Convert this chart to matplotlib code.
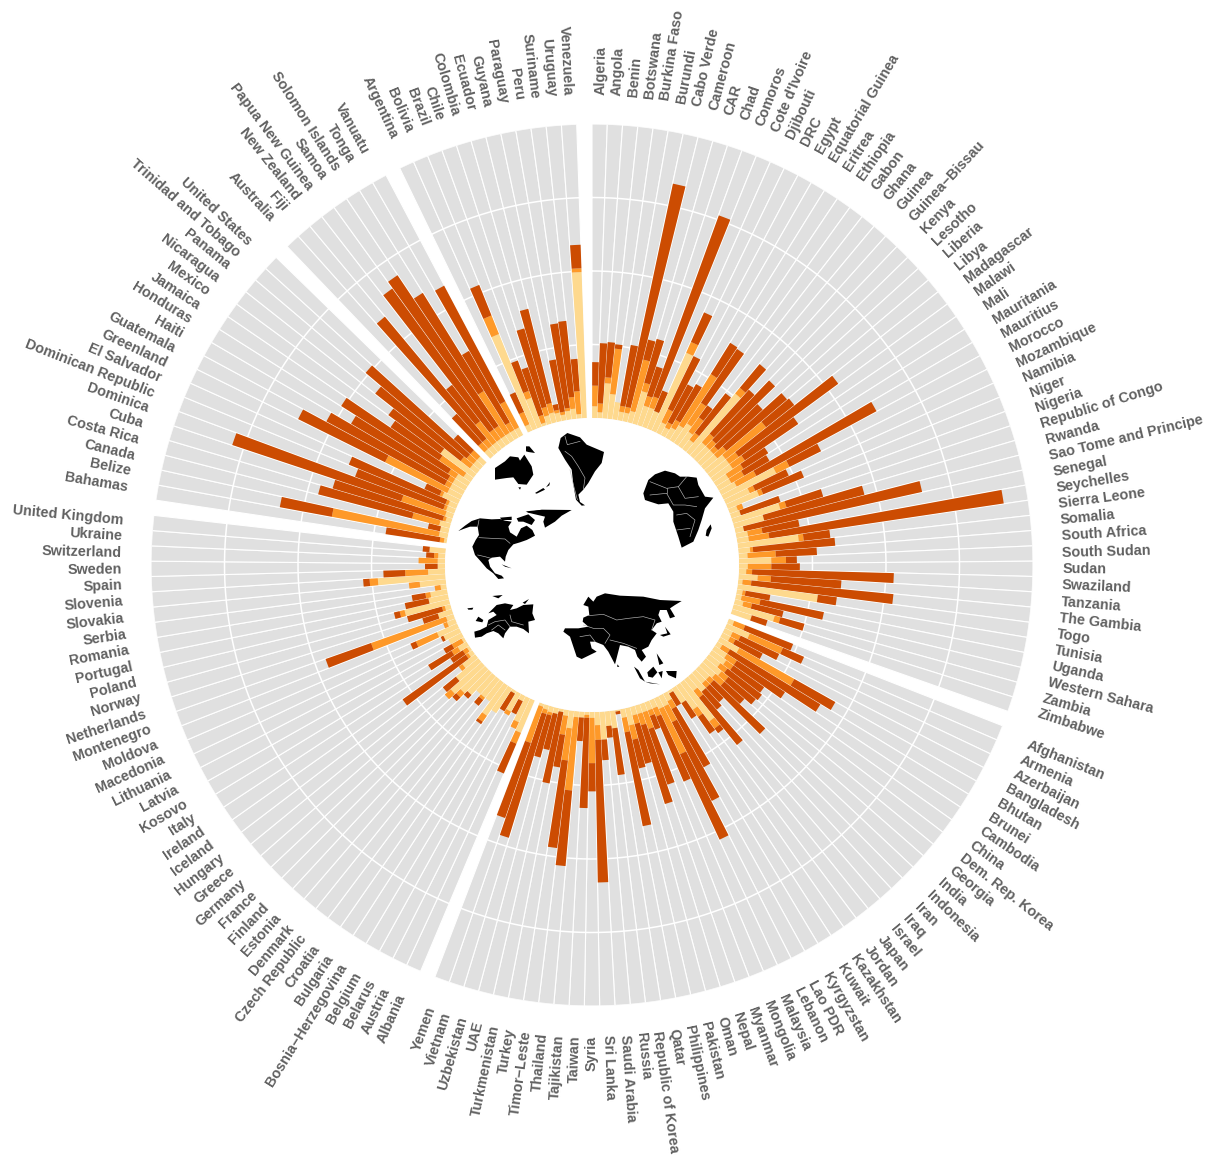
import numpy as np
import matplotlib
matplotlib.use("Agg")
import matplotlib.pyplot as plt
from matplotlib.patches import Polygon
from matplotlib.lines import Line2D

plt.rcParams['font.family'] = ['Liberation Sans', 'DejaVu Sans']

africa_names = ["Algeria","Angola","Benin","Botswana","Burkina Faso","Burundi","Cabo Verde","Cameroon","CAR","Chad","Comoros","Cote d'Ivoire","Djibouti","DRC","Egypt","Equatorial Guinea","Eritrea","Ethiopia","Gabon","Ghana","Guinea","Guinea\u2212Bissau","Kenya","Lesotho","Liberia","Libya","Madagascar","Malawi","Mali","Mauritania","Mauritius","Morocco","Mozambique","Namibia","Niger","Nigeria","Republic of Congo","Rwanda","Sao Tome and Principe","Senegal","Seychelles","Sierra Leone","Somalia","South Africa","South Sudan","Sudan","Swaziland","Tanzania","The Gambia","Togo","Tunisia","Uganda","Western Sahara","Zambia","Zimbabwe"]
africa_light = [4,2,12,8.5,6,3,3,4,11.5,7,7,6.5,29,4,3,4,6,8,6,4,26,6,6,6,6,8,8,8,5,5,6,20,9,11.5,3,3.4,16.8,10.5,3,4,4,20.8,4,3,11,3,2.5,6.5,1.5,27.5,2,2,3,14.5,7]
africa_orange = [7,3,2,15.5,0,2,2,18,3,3.5,4,0,4,5,2,3,20.5,8.5,6,3,2.5,4,3,2,4,17.5,4,5,6,5,7.6,5,2,1.5,2,0,2.2,0,0,5,7,1.7,1,9.6,5,8,2,4.5,3,0,1,6.5,3,2,0]
africa_dark = [8,20.5,12,1.5,0,21,77.6,7,15.5,10.5,65.5,7.5,11,20,14.5,14,12.5,22,5,17,10.5,20,28,20.5,27,12.2,42,22,10,10,46.4,12,12.5,15,0,14.2,13,35.2,62,12.8,80.6,9.1,28,14,3.7,9.7,48.2,24,48.5,6.5,8.5,22,11,8.5,5.6]

asia_names = ["Afghanistan","Armenia","Azerbaijan","Bangladesh","Bhutan","Brunei","Cambodia","China","Dem. Rep. Korea","Georgia","India","Indonesia","Iran","Iraq","Israel","Japan","Jordan","Kazakhstan","Kuwait","Kyrgyzstan","Lao PDR","Lebanon","Malaysia","Mongolia","Myanmar","Nepal","Oman","Pakistan","Philippines","Qatar","Republic of Korea","Russia","Saudi Arabia","Sri Lanka","Syria","Taiwan","Tajikistan","Thailand","Timor\u2212Leste","Turkey","Turkmenistan","UAE","Uzbekistan","Vietnam","Yemen"]
asia_light = [2,8.5,3,3,7.5,2,5,6,5,7,6,5,5,7,5,16.5,10,6,1,3,4,4,3,3,3,3,3,6,3,.5,6,5,9.5,4.5,2,1,2,2,6,2,1,2,2,1.5,1]
asia_orange = [4,12.3,3,2,21.5,3,4,3,3,3,4,2,2,0,3,3,3,0,0,3,6,17,3,2,6,4,3,5,5,0,0,0,0,5,15.4,1,0,25,11,6.5,0,0,1,1.5,13]
asia_dark = [17.5,7.8,14.5,10.4,16,36,19.6,12.8,14.7,12,9,24,6.6,8,20.6,2,7,6.3,5,22.6,30,32,24,5,20,28,14,10,32.5,1,16,4,7,48.5,9.6,30.7,8,25.8,30,11.2,24.7,12.6,14.8,44,27]

europe_names = ["Albania","Austria","Belarus","Belgium","Bosnia\u2212Herzegovina","Bulgaria","Croatia","Czech Republic","Denmark","Estonia","Finland","France","Germany","Greece","Hungary","Iceland","Ireland","Italy","Kosovo","Latvia","Lithuania","Macedonia","Moldova","Montenegro","Netherlands","Norway","Poland","Portugal","Romania","Serbia","Slovakia","Slovenia","Spain","Sweden","Switzerland","Ukraine","United Kingdom"]
europe_light = [12,9,2,7,1,10,12.5,8,8,8,10.3,11.5,14,9.9,5.5,1.7,1,3.5,1,5,6,7.5,3,2.7,5,2,15.6,6.8,5.8,2,8.9,23,5.8,2.5,2.5,2.4,5.5]
europe_orange = [4,2.5,0,1.5,0,0,2.5,0,1,0,0,2,2.7,0,1.5,1,1.7,2.5,3.8,0,0,7.8,1.4,27,0,1,1.7,0,1.7,2,3.7,2.8,7.8,0,6.5,1.4,0]
europe_dark = [11,0,5,0,7,0,1,0,2.5,0,1.7,1.8,0,5.7,0,26.3,5,9.3,3.2,0,1,2,0,16.4,5.5,12.3,2,8.2,4.7,0,0,2.2,7.4,4.3,0,2.7,2.3]

namerica_names = ["Bahamas","Belize","Canada","Costa Rica","Cuba","Dominica","Dominican Republic","El Salvador","Greenland","Guatemala","Haiti","Honduras","Jamaica","Mexico","Nicaragua","Panama","Trinidad and Tobago","United States"]
namerica_light = [1,3,3,3.7,2,2.7,3,3,6,5,5,5,5,3,14,3,3,3]
namerica_orange = [1.4,37,0,9.5,1,15.7,1,1,1,23.6,2,2,3,10,0,4,3,3]
namerica_dark = [18.6,18,4.2,33,39,60.6,32,35.5,5.6,33,45.7,38,43,20,22,37,45,7.6]

oceania_names = ["Australia","Fiji","New Zealand","Papua New Guinea","Samoa","Solomon Islands","Tonga","Vanuatu"]
oceania_light = [3,3,3,3,3,3,3,3]
oceania_orange = [3,3,9,4,4,16.7,3,10]
oceania_dark = [13,54,15.6,59,61.7,39.3,28,44.5]

samerica_names = ["Argentina","Bolivia","Brazil","Chile","Colombia","Ecuador","Guyana","Paraguay","Peru","Suriname","Uruguay","Venezuela"]
samerica_light = [2.4,34.7,10.5,1,3,3.5,3,2,3,3.5,1.5,49.7]
samerica_orange = [4.6,6.8,2.5,2.7,3,3.3,1,1,1,4,7.8,1.3]
samerica_dark = [7.3,11.2,11,17,27.7,33,2,18,29,26,11,8]

regions = [
    (africa_names, africa_light, africa_orange, africa_dark),
    (asia_names, asia_light, asia_orange, asia_dark),
    (europe_names, europe_light, europe_orange, europe_dark),
    (namerica_names, namerica_light, namerica_orange, namerica_dark),
    (oceania_names, oceania_light, oceania_orange, oceania_dark),
    (samerica_names, samerica_light, samerica_orange, samerica_dark),
]
grid_ticks = [25, 50, 75]
full_scale = 100
colors = ["#FED98E", "#FE9929", "#CC4C02"]
grey = "#E0E0E0"
label_color = "#616161"

W, H = 1212, 1156
CX, CY, R_OUT, R_IN = 592, 565, 441, 147

fig = plt.figure(figsize=(W / 100, H / 100), dpi=100)
ax = fig.add_axes([(CX - R_OUT) / W, (H - CY - R_OUT) / H, 2 * R_OUT / W, 2 * R_OUT / H], projection='polar')
ax.set_theta_zero_location('N')
ax.set_theta_direction(-1)
scale = (R_OUT - R_IN) / full_scale
ax.set_rorigin(-R_IN / scale)
ax.set_ylim(0, full_scale)
ax.set_axis_off()

n_slots = sum(len(r[0]) for r in regions) + len(regions)
step = 2 * np.pi / n_slots
slot = 0
for names, light, orange, dark in regions:
    for name, a, b, c in zip(names, light, orange, dark):
        th = (slot + 0.5) * step
        ax.bar(th, full_scale, width=step, bottom=0, color=grey, edgecolor='white', linewidth=0.8, zorder=1)
        bottom = 0
        for v, col in zip((a, b, c), colors):
            if v > 0:
                ax.bar(th, v, width=step * 0.95, bottom=bottom, color=col, edgecolor='none', linewidth=0, zorder=3)
            bottom += v
        deg = np.degrees(th)
        if deg < 180:
            rot, ha = 90 - deg, 'left'
        else:
            rot, ha = 270 - deg, 'right'
        ax.text(th, 110, name, rotation=rot, rotation_mode='anchor', ha=ha, va='center',
                fontsize=10.35, fontweight='bold', color=label_color, clip_on=False, zorder=5)
        slot += 1
    slot += 1

# white grid arcs over the grey tracks
arc = np.linspace(0, 2 * np.pi, 720)
for g in grid_ticks:
    ax.plot(arc, np.full_like(arc, g), color='white', linewidth=1.1, zorder=2)


# continent silhouettes (decorative), outlines in pixels of a 3x inset with the given origin
def land(ox, oy, points, color='black'):
    pts = [((ox + x / 3) / W, 1 - (oy + y / 3) / H) for x, y in points]
    fig.add_artist(Polygon(pts, closed=True, facecolor=color, edgecolor='none', transform=fig.transFigure, zorder=10))


def border(ox, oy, points):
    xs = [(ox + x / 3) / W for x, y in points]
    ys = [1 - (oy + y / 3) / H for x, y in points]
    fig.add_artist(Line2D(xs, ys, color='#BBBBBB', linewidth=0.45, transform=fig.transFigure, zorder=11))


# North America and Europe
o = (455, 505)
land(*o, [(10,78),(30,62),(50,48),(75,40),(110,43),(135,42),(150,47),(170,50),(160,65),(165,82),(185,95),(198,70),(215,62),(232,75),(240,92),(225,100),(215,105),(195,112),(175,118),(160,135),(152,155),(150,170),(135,155),(110,158),(100,165),(105,185),(120,205),(140,212),(147,220),(130,222),(115,205),(95,190),(78,170),(60,150),(52,125),(62,105),(72,90),(68,65),(45,65),(25,72)])
land(*o, [(135,38),(170,35),(170,45),(140,45)])
land(*o, [(185,40),(220,28),(240,45),(230,60),(205,50),(190,50)])
land(*o, [(215,22),(260,14),(350,15),(320,32),(300,50),(270,68),(265,50),(270,35),(240,28)])
land(*o, [(140,178),(170,190),(150,185)])
land(*o, [(58,380),(75,375),(95,365),(100,345),(125,330),(115,320),(100,325),(125,300),(150,295),(175,300),(165,315),(185,310),(205,300),(235,298),(232,325),(240,345),(220,350),(222,385),(205,372),(185,365),(165,365),(150,385),(145,400),(130,385),(115,378),(95,385),(80,395),(60,398)])
land(*o, [(70,335),(85,345),(82,352),(62,348)])
land(*o, [(37,310),(55,308),(52,314),(40,314)])
land(*o, [(112,273),(143,270),(130,280)])
land(*o, [(203,293),(222,282),(210,297)])
border(*o, [(72,98),(150,102),(165,115)])
border(*o, [(68,150),(90,155),(108,160)])
border(*o, [(72,45),(68,65)])
border(*o, [(100,360),(120,350),(150,345),(165,365)])
border(*o, [(110,375),(130,360),(150,375)])
border(*o, [(165,330),(170,350),(205,360)])

# Asia
o = (560, 585)
land(*o, [(85,35),(100,50),(110,35),(135,25),(180,32),(250,35),(300,45),(365,48),(345,60),(330,70),(345,95),(330,100),(320,75),(300,75),(295,90),(305,110),(290,115),(275,135),(290,145),(275,165),(265,185),(245,195),(258,215),(245,230),(232,215),(225,195),(205,185),(180,180),(165,238),(145,200),(130,180),(105,170),(90,170),(95,190),(110,200),(65,222),(50,215),(30,155),(10,140),(15,130),(55,130),(85,125),(68,110),(70,98),(88,90),(85,65),(70,60)])
land(*o, [(315,125),(332,148),(310,155),(300,150),(322,145)])
land(*o, [(222,245),(235,255),(255,290),(240,280)])
land(*o, [(255,290),(300,298),(270,295)])
land(*o, [(262,262),(280,245),(292,262),(278,278),(265,275)])
land(*o, [(295,262),(308,258),(305,280)])
land(*o, [(318,258),(350,258),(348,280),(325,270)])
land(*o, [(290,205),(310,235),(298,240)])
land(*o, [(172,238),(178,245),(172,246)])
border(*o, [(85,92),(130,88),(170,105),(205,100),(250,95),(285,105),(275,135)])
border(*o, [(70,120),(100,130),(130,130),(150,150),(135,175)])
border(*o, [(150,165),(190,175),(230,190)])
border(*o, [(60,155),(90,150),(105,170)])

# Oceania and South America
o = (490, 428)
land(*o, [(15,120),(45,100),(60,85),(85,88),(90,98),(103,80),(125,115),(130,140),(110,170),(85,168),(70,148),(50,150),(15,155)])
land(*o, [(108,55),(118,55),(135,75),(115,72),(108,70)])
land(*o, [(135,195),(160,180),(165,185),(140,197)])
land(*o, [(168,178),(180,162),(178,172)])
land(*o, [(85,178),(93,178),(90,185)])
land(*o, [(107,250),(150,246),(240,248),(190,253),(120,255)])
land(*o, [(205,60),(212,30),(232,15),(270,28),(290,50),(342,72),(335,105),(315,130),(295,165),(280,185),(265,200),(270,222),(285,232),(275,233),(258,215),(250,170),(245,125),(225,95)])
border(*o, [(225,70),(245,85),(265,115),(285,150),(280,185)])
border(*o, [(240,125),(250,170),(262,215)])
border(*o, [(225,25),(232,50),(270,40)])

# Africa
o = (640, 465)
land(*o, [(10,85),(25,45),(45,28),(75,17),(105,25),(120,35),(145,35),(170,38),(175,60),(195,95),(220,98),(195,130),(185,165),(175,195),(160,230),(125,248),(115,215),(100,170),(100,140),(85,115),(55,118),(30,110),(15,105)])
land(*o, [(212,178),(215,190),(205,215),(197,212),(200,195)])
border(*o, [(30,50),(80,70),(115,65),(140,35)])
border(*o, [(115,65),(135,100),(175,95)])
border(*o, [(30,90),(80,85),(100,120),(135,120),(170,125)])
border(*o, [(110,150),(140,145),(165,165),(150,215)])
border(*o, [(110,195),(150,190)])
border(*o, [(80,70),(80,85)])

fig.savefig("out.png", dpi=100, facecolor='white')
